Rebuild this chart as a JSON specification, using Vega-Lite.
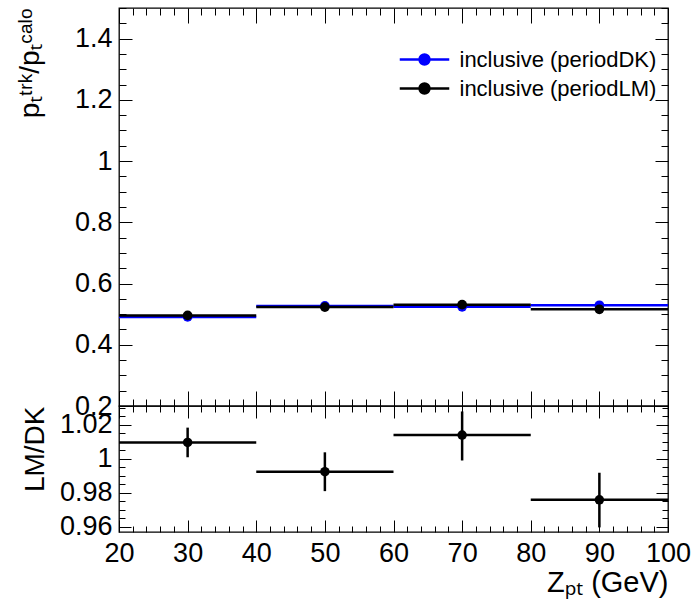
{
  "$schema": "https://vega.github.io/schema/vega-lite/v6.json",
  "background": "white",
  "padding": {"left": 15, "top": 6, "right": 5, "bottom": 5},
  "autosize": {"type": "pad"},
  "bounds": "flush",
  "spacing": 0,
  "datasets": {
    "hist": [
      {"series": "inclusive (periodDK)", "x": 30, "xlo": 20, "xhi": 40, "y": 0.491},
      {"series": "inclusive (periodDK)", "x": 50, "xlo": 40, "xhi": 60, "y": 0.527},
      {"series": "inclusive (periodDK)", "x": 70, "xlo": 60, "xhi": 80, "y": 0.524},
      {"series": "inclusive (periodDK)", "x": 90, "xlo": 80, "xhi": 100, "y": 0.529},
      {"series": "inclusive (periodLM)", "x": 30, "xlo": 20, "xhi": 40, "y": 0.496},
      {"series": "inclusive (periodLM)", "x": 50, "xlo": 40, "xhi": 60, "y": 0.523},
      {"series": "inclusive (periodLM)", "x": 70, "xlo": 60, "xhi": 80, "y": 0.531},
      {"series": "inclusive (periodLM)", "x": 90, "xlo": 80, "xhi": 100, "y": 0.516}
    ],
    "ratio": [
      {"x": 30, "xlo": 20, "xhi": 40, "r": 1.0096, "rlo": 1.0009, "rhi": 1.0183},
      {"x": 50, "xlo": 40, "xhi": 60, "r": 0.9924, "rlo": 0.981, "rhi": 1.0038},
      {"x": 70, "xlo": 60, "xhi": 80, "r": 1.0139, "rlo": 0.999, "rhi": 1.0278},
      {"x": 90, "xlo": 80, "xhi": 100, "r": 0.9759, "rlo": 0.9597, "rhi": 0.9918}
    ]
  },
  "config": {
    "view": {"stroke": "#000", "strokeWidth": 1.3},
    "font": "Liberation Sans",
    "axis": {
      "domain": false, "grid": false,
      "labelFont": "Liberation Sans", "labelFontSize": 27, "labelColor": "#000",
      "titleFont": "Liberation Sans, Noto Sans, DejaVu Sans", "titleFontSize": 28, "titleFontWeight": "normal", "titleColor": "#000",
      "tickColor": "#000", "tickWidth": 1,
      "labelFlush": false, "labelOverlap": false, "labelBound": false
    }
  },
  "vconcat": [
    {
      "width": 549,
      "height": 398,
      "data": {"name": "hist"},
      "layer": [
        {
          "transform": [{"filter": "datum.series === 'inclusive (periodDK)'"}],
          "mark": {"type": "rule", "strokeWidth": 2.5},
          "encoding": {
            "x": {"field": "xlo", "type": "quantitative", "scale": {"domain": [20, 100], "nice": false, "zero": false},
              "axis": {"orient": "bottom", "labels": false, "title": null,
                "values": [20,22,24,26,28,30,32,34,36,38,40,42,44,46,48,50,52,54,56,58,60,62,64,66,68,70,72,74,76,78,80,82,84,86,88,90,92,94,96,98,100],
                "tickSize": {"condition": {"test": "datum.value % 10 === 0", "value": -15}, "value": -7}}},
            "x2": {"field": "xhi"},
            "y": {"field": "y", "type": "quantitative", "scale": {"domain": [0.2, 1.5], "nice": false, "zero": false},
              "axis": {"orient": "left", "ticks": false, "values": [0.2,0.4,0.6,0.8,1,1.2,1.4], "format": "~g", "labelPadding": 7,
                "title": "pₜᵗʳᵏ/pₜᶜᵃˡᵒ", "titleAnchor": "end", "titlePadding": 30}},
            "color": {"field": "series", "type": "nominal",
              "scale": {"domain": ["inclusive (periodDK)", "inclusive (periodLM)"], "range": ["#0000ff", "#000000"]},
              "legend": {"orient": "none", "legendX": 287.5, "legendY": 33.5, "title": null,
                "symbolType": "M-1.5,0L1.5,0M0.3,0A0.3,0.3,0,1,1,-0.3,0A0.3,0.3,0,1,1,0.3,0Z",
                "symbolSize": 1089, "symbolStrokeWidth": 2.5,
                "labelFont": "Liberation Sans", "labelFontSize": 22, "labelColor": "#000", "labelOffset": 17, "labelLimit": 400,
                "rowPadding": 0, "padding": 0,
                "encode": {"symbols": {"update": {
                  "stroke": {"signal": "datum.value === 'inclusive (periodDK)' ? '#0000ff' : '#000000'"},
                  "fill": {"signal": "datum.value === 'inclusive (periodDK)' ? '#0000ff' : '#000000'"},
                  "opacity": {"value": 1}, "fillOpacity": {"value": 1}}}}}}
          }
        },
        {
          "transform": [{"filter": "datum.series === 'inclusive (periodDK)'"}],
          "mark": {"type": "point", "filled": true, "size": 95, "opacity": 1, "shape": "circle"},
          "encoding": {
            "x": {"field": "x", "type": "quantitative",
              "axis": {"orient": "top", "labels": false, "title": null,
                "values": [20,22,24,26,28,30,32,34,36,38,40,42,44,46,48,50,52,54,56,58,60,62,64,66,68,70,72,74,76,78,80,82,84,86,88,90,92,94,96,98,100],
                "tickSize": {"condition": {"test": "datum.value % 10 === 0", "value": -15}, "value": -7}}},
            "y": {"field": "y", "type": "quantitative",
              "axis": {"orient": "left", "labels": false, "title": null,
                "values": [0.2,0.25,0.3,0.35,0.4,0.45,0.5,0.55,0.6,0.65,0.7,0.75,0.8,0.85,0.9,0.95,1,1.05,1.1,1.15,1.2,1.25,1.3,1.35,1.4,1.45,1.5],
                "tickSize": {"condition": {"test": "abs(datum.value*5 - round(datum.value*5)) < 0.001", "value": -13}, "value": -7}}},
            "color": {"field": "series", "type": "nominal"}
          }
        },
        {
          "transform": [{"filter": "datum.series === 'inclusive (periodLM)'"}],
          "mark": {"type": "rule", "strokeWidth": 2.5},
          "encoding": {
            "x": {"field": "xlo", "type": "quantitative", "axis": null},
            "x2": {"field": "xhi"},
            "y": {"field": "y", "type": "quantitative",
              "axis": {"orient": "right", "labels": false, "title": null,
                "values": [0.2,0.25,0.3,0.35,0.4,0.45,0.5,0.55,0.6,0.65,0.7,0.75,0.8,0.85,0.9,0.95,1,1.05,1.1,1.15,1.2,1.25,1.3,1.35,1.4,1.45,1.5],
                "tickSize": {"condition": {"test": "abs(datum.value*5 - round(datum.value*5)) < 0.001", "value": -13}, "value": -7}}},
            "color": {"field": "series", "type": "nominal"}
          }
        },
        {
          "transform": [{"filter": "datum.series === 'inclusive (periodLM)'"}],
          "mark": {"type": "point", "filled": true, "size": 95, "opacity": 1, "shape": "circle"},
          "encoding": {
            "x": {"field": "x", "type": "quantitative", "axis": null},
            "y": {"field": "y", "type": "quantitative", "axis": null},
            "color": {"field": "series", "type": "nominal"}
          }
        }
      ],
      "resolve": {"axis": {"x": "independent", "y": "independent"}}
    },
    {
      "width": 549,
      "height": 126,
      "data": {"name": "ratio"},
      "layer": [
        {
          "mark": {"type": "rule", "strokeWidth": 2.5, "color": "#000"},
          "encoding": {
            "x": {"field": "xlo", "type": "quantitative", "scale": {"domain": [20, 100], "nice": false, "zero": false},
              "axis": {"orient": "bottom", "ticks": false, "values": [20,30,40,50,60,70,80,90,100], "format": "d", "labelPadding": 8,
                "title": "Zₚₜ (GeV)", "titleAnchor": "end", "titlePadding": 2, "titleFontSize": 29}},
            "x2": {"field": "xhi"},
            "y": {"field": "r", "type": "quantitative", "scale": {"domain": [0.957, 1.031], "nice": false, "zero": false},
              "axis": {"orient": "left", "ticks": false, "values": [0.96, 0.98, 1, 1.02], "format": "~g", "labelPadding": 7,
                "title": "LM/DK", "titleAnchor": "end", "titlePadding": 10}}
          }
        },
        {
          "mark": {"type": "rule", "strokeWidth": 2.5, "color": "#000"},
          "encoding": {
            "x": {"field": "x", "type": "quantitative",
              "axis": {"orient": "bottom", "labels": false, "title": null,
                "values": [20,22,24,26,28,30,32,34,36,38,40,42,44,46,48,50,52,54,56,58,60,62,64,66,68,70,72,74,76,78,80,82,84,86,88,90,92,94,96,98,100],
                "tickSize": {"condition": {"test": "datum.value % 10 === 0", "value": -12}, "value": -6}}},
            "y": {"field": "rlo", "type": "quantitative",
              "axis": {"orient": "left", "labels": false, "title": null,
                "values": [0.96,0.965,0.97,0.975,0.98,0.985,0.99,0.995,1,1.005,1.01,1.015,1.02,1.025,1.03],
                "tickSize": {"condition": {"test": "abs(datum.value*50 - round(datum.value*50)) < 0.001", "value": -12}, "value": -6}}},
            "y2": {"field": "rhi"}
          }
        },
        {
          "mark": {"type": "point", "filled": true, "size": 90, "opacity": 1, "shape": "circle", "color": "#000"},
          "encoding": {
            "x": {"field": "x", "type": "quantitative",
              "axis": {"orient": "top", "labels": false, "title": null,
                "values": [20,22,24,26,28,30,32,34,36,38,40,42,44,46,48,50,52,54,56,58,60,62,64,66,68,70,72,74,76,78,80,82,84,86,88,90,92,94,96,98,100],
                "tickSize": {"condition": {"test": "datum.value % 10 === 0", "value": -12}, "value": -6}}},
            "y": {"field": "r", "type": "quantitative",
              "axis": {"orient": "right", "labels": false, "title": null,
                "values": [0.96,0.965,0.97,0.975,0.98,0.985,0.99,0.995,1,1.005,1.01,1.015,1.02,1.025,1.03],
                "tickSize": {"condition": {"test": "abs(datum.value*50 - round(datum.value*50)) < 0.001", "value": -12}, "value": -6}}}
          }
        }
      ],
      "resolve": {"axis": {"x": "independent", "y": "independent"}}
    }
  ]
}
